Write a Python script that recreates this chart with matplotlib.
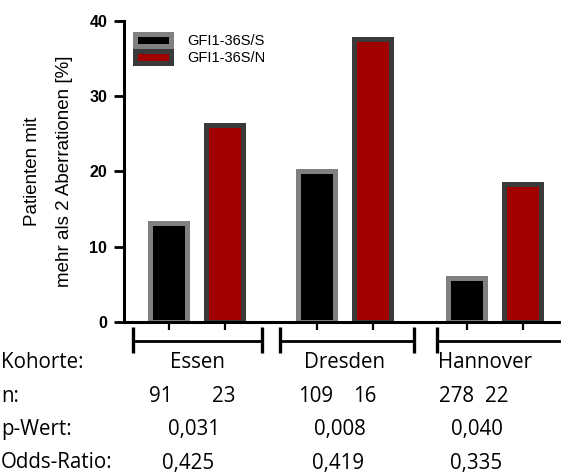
import matplotlib.pyplot as plt
from matplotlib.patches import Patch

cohorts = ["Essen", "Dresden", "Hannover"]
pct_ss = [13.2, 20.1, 5.8]
pct_sn = [26.2, 37.6, 18.3]
n_ss = ["91", "109", "278"]
n_sn = ["23", "16", "22"]
p_values = ["0,031", "0,008", "0,040"]
odds_ratios = ["0,425", "0,419", "0,335"]
legend_labels = ["GFI1-36S/S", "GFI1-36S/N"]

group_x = [0.0, 2.64, 5.32]
bar_w = 0.66

fig = plt.figure(figsize=(5.61, 4.72), dpi=100)
ax = fig.add_axes([0.221, 0.318, 0.779, 0.6375])

x_ss = [g for g in group_x]
x_sn = [g + 1 for g in group_x]
b1 = ax.bar(x_ss, pct_ss, width=bar_w, color="black", edgecolor="#808080",
            linewidth=3.6, label=legend_labels[0])
b2 = ax.bar(x_sn, pct_sn, width=bar_w, color="#a00000", edgecolor="#3a3a3a",
            linewidth=3.6, label=legend_labels[1])

ax.set_xlim(-0.80, 7.0)
ax.set_ylim(0, 40)
ax.set_yticks([0, 10, 20, 30, 40])
ax.set_xticks(x_ss + x_sn)
ax.set_xticklabels([])
for s in ["top", "right"]:
    ax.spines[s].set_visible(False)
for s in ["left", "bottom"]:
    ax.spines[s].set_linewidth(2.2)
ax.tick_params(axis="y", length=7, width=2, labelsize=11.5, pad=5)
ax.tick_params(axis="x", length=6, width=1.6)
for lab in ax.get_yticklabels():
    lab.set_fontweight("bold")
    lab.set_fontfamily("Liberation Sans")

ax.set_ylabel("Patienten mit\nmehr als 2 Aberrationen [%]", fontsize=13.5,
              family="Liberation Sans", linespacing=2.1, labelpad=12)

leg = ax.legend(handles=[Patch(facecolor="black", edgecolor="#808080", linewidth=3.6),
                         Patch(facecolor="#a00000", edgecolor="#3a3a3a", linewidth=3.6)],
                labels=legend_labels, loc="upper left", bbox_to_anchor=(-0.005, 1.0),
                frameon=False, handlelength=2.5, handleheight=0.8, handletextpad=1.1,
                labelspacing=0.2, prop={"family": "Liberation Sans", "size": 10.5})

# cohort brackets under the x axis
brackets = [(-0.643, 1.66), (1.98, 4.375), (4.79, 7.3)]
for lo, hi in brackets:
    ax.plot([lo, hi], [-2.5, -2.5], color="black", lw=2, clip_on=False,
            solid_capstyle="butt")
    for xe in (lo, hi):
        ax.plot([xe, xe], [-0.66, -4.1], color="black", lw=2.4, clip_on=False,
                solid_capstyle="butt")

# table of cohort info below the chart
tf = {"family": "Open Sans", "fontsize": 14.8, "va": "center"}
rows_y = [362, 397, 430, 463]
row_labels = ["Kohorte:", "n:", "p-Wert:", "Odds-Ratio:"]
for lab, y in zip(row_labels, rows_y):
    fig.text(1 / 561, 1 - y / 472, lab, ha="left", **tf)

cohort_px = [197, 345, 485]
n1_px = [161, 316, 457]
n2_px = [224, 365, 497]
p_px = [194, 340, 477]
or_px = [188, 338, 476]
for i in range(3):
    fig.text(cohort_px[i] / 561, 1 - rows_y[0] / 472, cohorts[i], ha="center", **tf)
    fig.text(n1_px[i] / 561, 1 - rows_y[1] / 472, n_ss[i], ha="center", **tf)
    fig.text(n2_px[i] / 561, 1 - rows_y[1] / 472, n_sn[i], ha="center", **tf)
    fig.text(p_px[i] / 561, 1 - rows_y[2] / 472, p_values[i], ha="center", **tf)
    fig.text(or_px[i] / 561, 1 - rows_y[3] / 472, odds_ratios[i], ha="center", **tf)

fig.savefig("out.png", dpi=100)
